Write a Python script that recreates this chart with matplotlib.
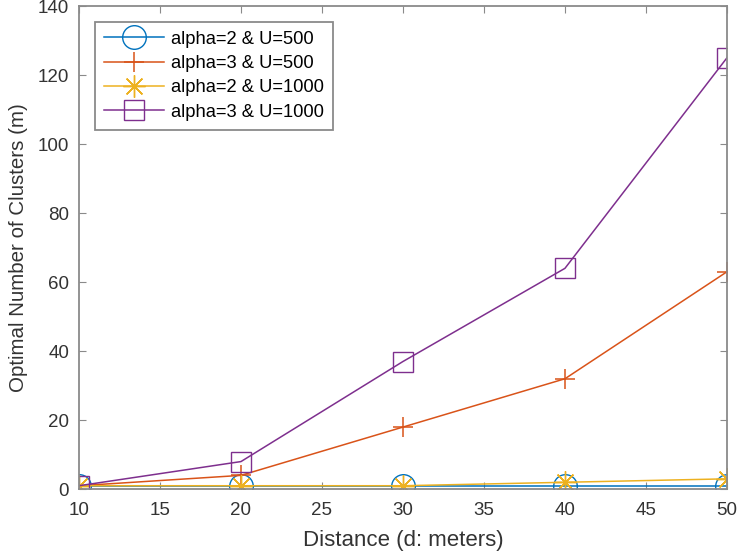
import matplotlib
matplotlib.use("Agg")
from matplotlib import pyplot as plt

plt.rcParams["font.family"] = ["Liberation Sans", "DejaVu Sans"]

# ==================== Data ====================
distance = [10, 20, 30, 40, 50]
a2_u500 = [1, 1, 1, 1, 1]
a3_u500 = [1, 4, 18, 32, 63]
a2_u1000 = [1, 1, 1, 2, 3]
a3_u1000 = [1, 8, 37, 64, 125]
labels = ["alpha=2 & U=500", "alpha=3 & U=500", "alpha=2 & U=1000", "alpha=3 & U=1000"]

fig = plt.figure(figsize=(7.38, 5.54), dpi=100)
ax = fig.add_axes([0.107, 0.117, 0.878, 0.872])

ax.plot(distance, a2_u500, color="#0072BD", marker="o", markersize=17,
        markerfacecolor="none", linewidth=1.1, label=labels[0])
ax.plot(distance, a3_u500, color="#D95319", marker="+", markersize=15,
        markeredgewidth=1.1, linewidth=1.1, label=labels[1])
ax.plot(distance, a2_u1000, color="#EDB120", marker=(8, 2, 0), markersize=16,
        markeredgewidth=1.0, linewidth=1.1, label=labels[2])
ax.plot(distance, a3_u1000, color="#7E2F8E", marker="s", markersize=14,
        markerfacecolor="none", linewidth=1.1, label=labels[3])

ax.set_xlim(10, 50)
ax.set_ylim(0, 140)
ax.set_xticks(range(10, 51, 5))
ax.set_yticks(range(0, 141, 20))

gray = "#333333"
for s in ax.spines.values():
    s.set_color("#8a8a8a")
    s.set_linewidth(1.3)
ax.tick_params(direction="in", top=True, right=True, length=5,
               labelsize=13.5, colors="#8a8a8a", labelcolor=gray)
ax.tick_params(axis="x", pad=9)
ax.tick_params(axis="y", pad=7)
ax.set_xlabel("Distance (d: meters)", fontsize=16, color=gray)
ax.set_ylabel("Optimal Number of Clusters (m)", fontsize=14.8, color=gray)
ax.xaxis.set_label_coords(0.5, -0.085)
ax.yaxis.set_label_coords(-0.078, 0.5)

leg = ax.legend(loc="upper left", bbox_to_anchor=(0.024, 0.968), fontsize=13.2,
                fancybox=False, framealpha=1, handlelength=3.3, handletextpad=0.35,
                borderpad=0.5, borderaxespad=0, labelspacing=0.4)
leg.get_frame().set_edgecolor("#8a8a8a")
leg.get_frame().set_linewidth(1.3)

plt.savefig("out.png", dpi=100)
